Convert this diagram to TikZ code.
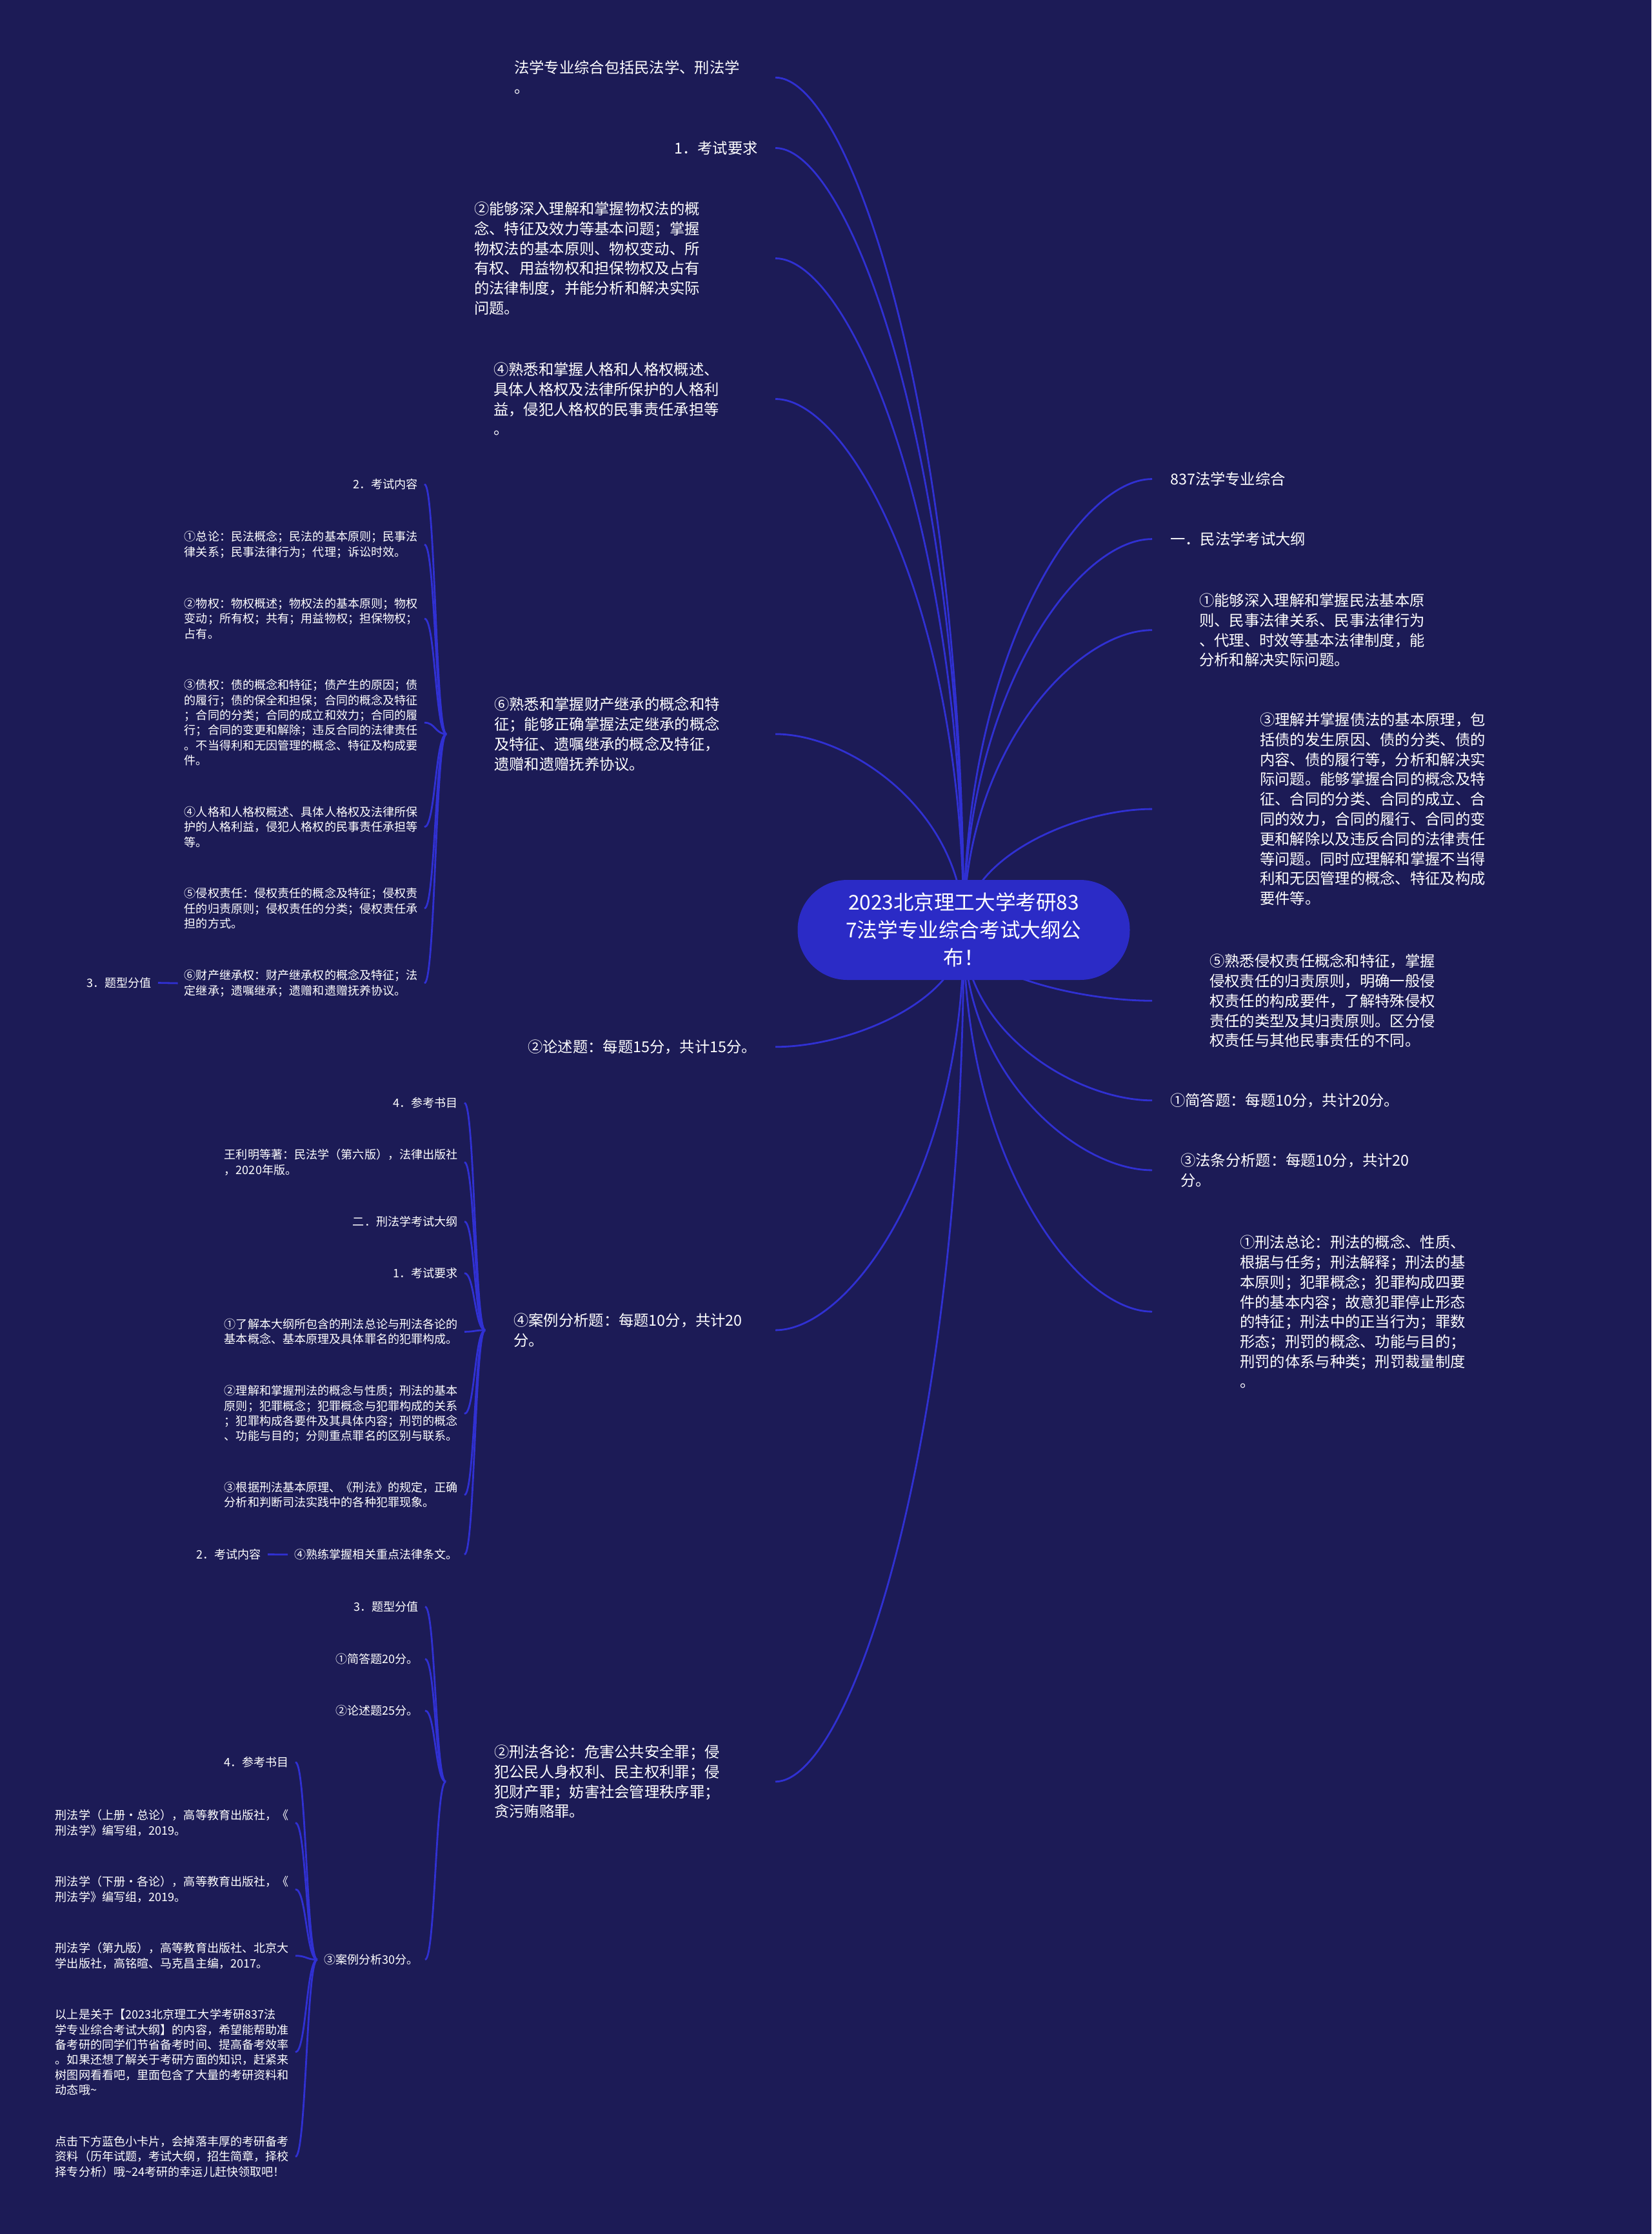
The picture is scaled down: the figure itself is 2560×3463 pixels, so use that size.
\documentclass[tikz,border=0pt]{standalone}
\usepackage{fontspec}
\setmainfont{Noto Sans CJK SC}
\usetikzlibrary{calc}
\definecolor{bgc}{HTML}{1C1B56}
\definecolor{linec}{HTML}{3030D2}
\definecolor{hubc}{HTML}{2B2BC6}
\pgfdeclarelayer{bglayer}
\pgfdeclarelayer{edgelayer}
\pgfsetlayers{bglayer,edgelayer,main}
\begin{document}
\begin{tikzpicture}[x=1pt,y=-1pt,
  lvA/.style={font=\fontsize{23.3}{30.8}\selectfont, text=white, inner sep=0pt, align=left, anchor=north west},
  lvB/.style={font=\fontsize{18.1}{23.4}\selectfont, text=white, inner xsep=10pt, inner ysep=0pt, align=left, anchor=north east},
  hub/.style={fill=hubc, rounded corners=77pt, minimum width=515pt, minimum height=155pt, align=center, text=white, font=\fontsize{31.6}{43}\selectfont, inner sep=0pt},
  hubedge/.style={to path={.. controls ($(\tikztostart)!0.6!(\tikztostart |- \tikztotarget)$) and ($(\tikztotarget)!0.4!(\tikztotarget -| \tikztostart)$) .. (\tikztotarget)}},
  brk/.style={to path={.. controls ($(\tikztostart)!0.5!(\tikztostart -| \tikztotarget)$) and ($(\tikztotarget)!0.5!(\tikztotarget -| \tikztostart)$) .. (\tikztotarget)}},
  conn/.style={draw=linec, line width=2.8pt}
]
\begin{pgfonlayer}{bglayer}
\fill[bgc] (0,0) rectangle (2560,3463);
\end{pgfonlayer}
\useasboundingbox (0,0) rectangle (2560,3463);

% centre
\node[hub] (C) at (1494,1441.5) {2023北京理工大学考研83\\7法学专业综合考试大纲公\\布！};

% level 1, left
\node[lvA] (L1) at (797,94) {法学专业综合包括民法学、刑法学\\。};
\node[lvA] (L2) at (1045,218.5) {1．考试要求};
\node[lvA] (L3) at (735,312.5) {②能够深入理解和掌握物权法的概\\念、特征及效力等基本问题；掌握\\物权法的基本原则、物权变动、所\\有权、用益物权和担保物权及占有\\的法律制度，并能分析和解决实际\\问题。};
\node[lvA] (L4) at (765,561.5) {④熟悉和掌握人格和人格权概述、\\具体人格权及法律所保护的人格利\\益，侵犯人格权的民事责任承担等\\。};
\node[lvA] (L5) at (766,1080.5) {⑥熟悉和掌握财产继承的概念和特\\征；能够正确掌握法定继承的概念\\及特征、遗嘱继承的概念及特征，\\遗赠和遗赠抚养协议。};
\node[lvA] (L6) at (818,1611.5) {②论述题：每题15分，共计15分。};
\node[lvA] (L7) at (796,2035.5) {④案例分析题：每题10分，共计20\\分。};
\node[lvA] (L8) at (766,2704.5) {②刑法各论：危害公共安全罪；侵\\犯公民人身权利、民主权利罪；侵\\犯财产罪；妨害社会管理秩序罪；\\贪污贿赂罪。};

% level 1, right
\node[lvA] (R1) at (1814,731.5) {837法学专业综合};
\node[lvA] (R2) at (1814,824.5) {一．民法学考试大纲};
\node[lvA] (R3) at (1859,919.5) {①能够深入理解和掌握民法基本原\\则、民事法律关系、民事法律行为\\、代理、时效等基本法律制度，能\\分析和解决实际问题。};
\node[lvA] (R4) at (1953,1104.5) {③理解并掌握债法的基本原理，包\\括债的发生原因、债的分类、债的\\内容、债的履行等，分析和解决实\\际问题。能够掌握合同的概念及特\\征、合同的分类、合同的成立、合\\同的效力，合同的履行、合同的变\\更和解除以及违反合同的法律责任\\等问题。同时应理解和掌握不当得\\利和无因管理的概念、特征及构成\\要件等。};
\node[lvA] (R5) at (1875,1478.5) {⑤熟悉侵权责任概念和特征，掌握\\侵权责任的归责原则，明确一般侵\\权责任的构成要件，了解特殊侵权\\责任的类型及其归责原则。区分侵\\权责任与其他民事责任的不同。};
\node[lvA] (R6) at (1814,1694.5) {①简答题：每题10分，共计20分。};
\node[lvA] (R7) at (1830,1787.5) {③法条分析题：每题10分，共计20\\分。};
\node[lvA] (R8) at (1922,1914.5) {①刑法总论：刑法的概念、性质、\\根据与任务；刑法解释；刑法的基\\本原则；犯罪概念；犯罪构成四要\\件的基本内容；故意犯罪停止形态\\的特征；刑法中的正当行为；罪数\\形态；刑罚的概念、功能与目的；\\刑罚的体系与种类；刑罚裁量制度\\。};

% children of L5
\node[lvB] (A0) at (658,742) {2．考试内容};
\node[lvB] (A1) at (658,823) {①总论：民法概念；民法的基本原则；民事法\\律关系；民事法律行为；代理；诉讼时效。};
\node[lvB] (A2) at (658,927) {②物权：物权概述；物权法的基本原则；物权\\变动；所有权；共有；用益物权；担保物权；\\占有。};
\node[lvB] (A3) at (658,1053) {③债权：债的概念和特征；债产生的原因；债\\的履行；债的保全和担保；合同的概念及特征\\；合同的分类；合同的成立和效力；合同的履\\行；合同的变更和解除；违反合同的法律责任\\。不当得利和无因管理的概念、特征及构成要\\件。};
\node[lvB] (A4) at (658,1250) {④人格和人格权概述、具体人格权及法律所保\\护的人格利益，侵犯人格权的民事责任承担等\\等。};
\node[lvB] (A5) at (658,1376) {⑤侵权责任：侵权责任的概念及特征；侵权责\\任的归责原则；侵权责任的分类；侵权责任承\\担的方式。};
\node[lvB] (A6) at (658,1503) {⑥财产继承权：财产继承权的概念及特征；法\\定继承；遗嘱继承；遗赠和遗赠抚养协议。};
\node[lvB] (A7) at (245,1515) {3．题型分值};

% children of L7
\node[lvB] (B0) at (720,1701) {4．参考书目};
\node[lvB] (B1) at (720,1781) {王利明等著：民法学（第六版），法律出版社\\，2020年版。};
\node[lvB] (B2) at (720,1885) {二．刑法学考试大纲};
\node[lvB] (B3) at (720,1965) {1．考试要求};
\node[lvB] (B6) at (720,2044) {①了解本大纲所包含的刑法总论与刑法各论的\\基本概念、基本原理及具体罪名的犯罪构成。};
\node[lvB] (B7) at (720,2147) {②理解和掌握刑法的概念与性质；刑法的基本\\原则；犯罪概念；犯罪概念与犯罪构成的关系\\；犯罪构成各要件及其具体内容；刑罚的概念\\、功能与目的；分则重点罪名的区别与联系。};
\node[lvB] (B8) at (720,2297) {③根据刑法基本原理、《刑法》的规定，正确\\分析和判断司法实践中的各种犯罪现象。};
\node[lvB] (B4) at (720,2401) {④熟练掌握相关重点法律条文。};
\node[lvB] (B5) at (415,2401) {2．考试内容};

% children of L8
\node[lvB] (D0) at (659,2482) {3．题型分值};
\node[lvB] (D1) at (659,2563) {①简答题20分。};
\node[lvB] (D2) at (659,2643) {②论述题25分。};
\node[lvB] (D3) at (659,3029) {③案例分析30分。};

% children of D3
\node[lvB] (E0) at (458,2723) {4．参考书目};
\node[lvB] (E1) at (458,2805) {刑法学（上册·总论），高等教育出版社，《\\刑法学》编写组，2019。};
\node[lvB] (E2) at (458,2908) {刑法学（下册·各论），高等教育出版社，《\\刑法学》编写组，2019。};
\node[lvB] (E3) at (458,3011) {刑法学（第九版），高等教育出版社、北京大\\学出版社，高铭暄、马克昌主编，2017。};
\node[lvB] (E4) at (458,3114) {以上是关于【2023北京理工大学考研837法\\学专业综合考试大纲】的内容，希望能帮助准\\备考研的同学们节省备考时间、提高备考效率\\。如果还想了解关于考研方面的知识，赶紧来\\树图网看看吧，里面包含了大量的考研资料和\\动态哦\textasciitilde};
\node[lvB] (E5) at (458,3311) {点击下方蓝色小卡片，会掉落丰厚的考研备考\\资料（历年试题，考试大纲，招生简章，择校\\择专分析）哦\textasciitilde 24考研的幸运儿赶快领取吧！};

% connector end points
\coordinate (lx) at (1202,0);
\coordinate (rx) at (1786,0);
\foreach \n in {L1,L2,L3,L4,L5,L6,L7,L8} \coordinate (e\n) at (\n.east -| lx);
\foreach \n in {R1,R2,R3,R4,R5,R6,R7,R8} \coordinate (e\n) at (\n.west -| rx);
\coordinate (fL5) at ($(L5.west)+(-74,0)$);
\coordinate (fL7) at ($(L7.west)+(-44,0)$);
\coordinate (fL8) at ($(L8.west)+(-75,0)$);

\begin{pgfonlayer}{edgelayer}
\foreach \n in {L1,L2,L3,L4,L5,L6,L7,L8,R1,R2,R3,R4,R5,R6,R7,R8}
  \draw[conn] (C.center) to[hubedge] (e\n);
\foreach \c in {A0,A1,A2,A3,A4,A5,A6}
  \draw[conn] (fL5) to[brk] (\c.east);
\draw[conn] (A6.west) to[brk] (A7.east);
\foreach \c in {B0,B1,B2,B3,B6,B7,B8,B4}
  \draw[conn] (fL7) to[brk] (\c.east);
\draw[conn] (B4.west) to[brk] (B5.east);
\foreach \c in {D0,D1,D2,D3}
  \draw[conn] (fL8) to[brk] (\c.east);
\foreach \c in {E0,E1,E2,E3,E4,E5}
  \draw[conn] (D3.west) to[brk] (\c.east);
\end{pgfonlayer}
\end{tikzpicture}
\end{document}
